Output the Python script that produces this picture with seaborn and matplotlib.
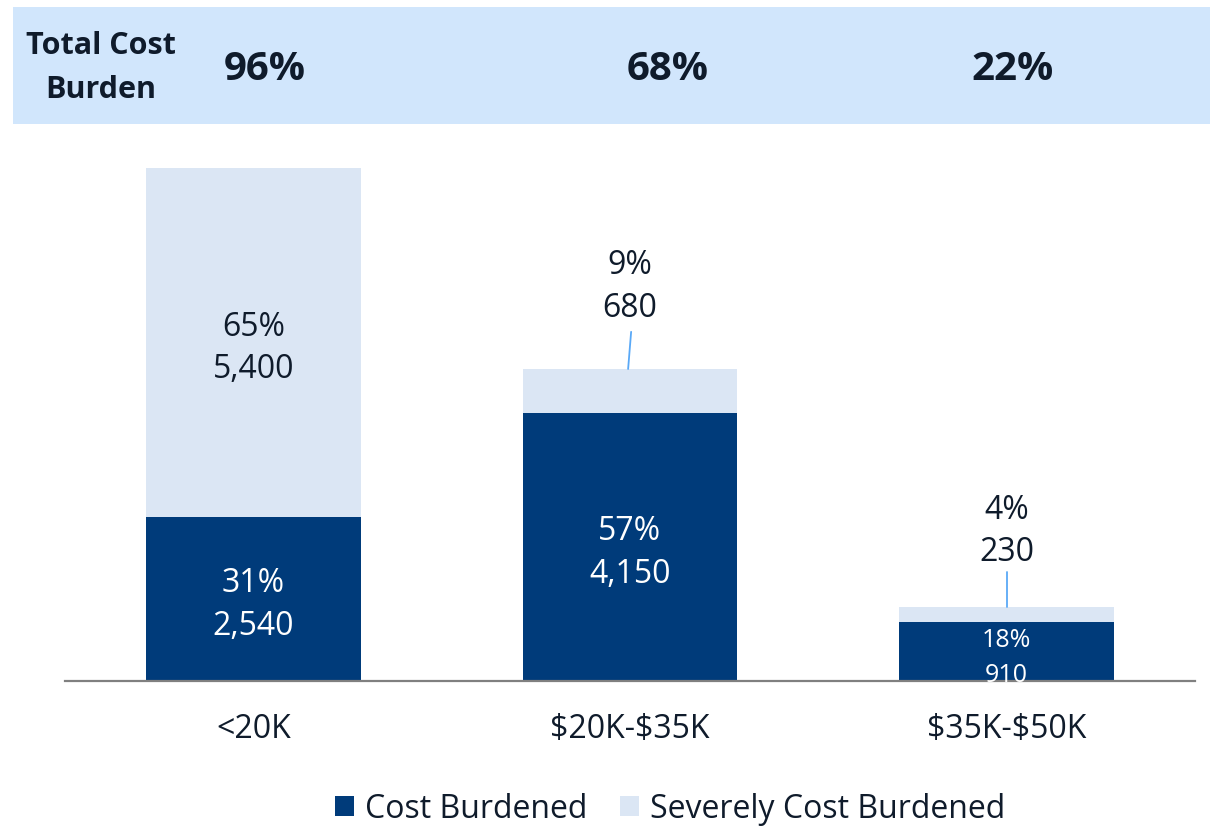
import matplotlib
matplotlib.use("Agg")
import matplotlib.pyplot as plt
import seaborn as sns
import pandas as pd
from matplotlib.patches import Rectangle, Patch

sns.set_theme(style="white")
plt.rcParams['font.family'] = ['Open Sans', 'DejaVu Sans']
plt.rcParams['text.parse_math'] = False

categories = ["<20K", "$20K-$35K", "$35K-$50K"]
cost_burdened = [2540, 4150, 910]
severe_burdened = [5400, 680, 230]
cost_pct = ["31%", "57%", "18%"]
severe_pct = ["65%", "9%", "4%"]
total_pct = ["96%", "68%", "22%"]

DARK = "#003b7a"
LIGHT = "#dbe6f4"
BAND = "#d1e6fc"
TXT = "#0f1b2b"
LEADER = "#5aa9f7"

df = pd.DataFrame({
    "cat": categories,
    "cost": cost_burdened,
    "severe": severe_burdened,
})
df["total"] = df["cost"] + df["severe"]

fig = plt.figure(figsize=(12.22, 8.29), dpi=100)
W, H = 1222, 829

# header band
fig.patches.append(Rectangle((13 / W, 1 - 125 / H), 1197 / W, 117 / H,
                             transform=fig.transFigure, facecolor=BAND,
                             edgecolor="none", zorder=0))
fig.text(101 / W, 1 - 68 / H, "Total Cost\nBurden", ha="center", va="center",
         fontsize=22, fontweight="bold", color=TXT, linespacing=1.62)
for xp, t in zip([265, 668, 1013], total_pct):
    fig.text(xp / W, 1 - 70 / H, t, ha="center", va="center",
             fontsize=29, fontweight="bold", color=TXT)

ax = fig.add_axes([65 / W, 1 - 682 / H, 1130 / W, 542 / H])
sns.barplot(data=df, x="cat", y="total", color=LIGHT, width=0.57,
            saturation=1, ax=ax, order=categories, linewidth=0, edgecolor="none")
sns.barplot(data=df, x="cat", y="cost", color=DARK, width=0.57,
            saturation=1, ax=ax, order=categories, linewidth=0, edgecolor="none")

ax.set_xlim(-0.5, 2.5)
ax.set_ylim(0, 8390)
ax.set_xlabel("")
ax.set_ylabel("")
ax.set_yticks([])
for s in ["top", "right", "left"]:
    ax.spines[s].set_visible(False)
ax.spines["bottom"].set_color("#808080")
ax.spines["bottom"].set_linewidth(1.6)
ax.tick_params(axis="x", length=0, pad=22, labelsize=23, labelcolor=TXT)
ax.patch.set_alpha(0)

FS = 23
gap = 330
dy = -75
for i in range(3):
    c = cost_burdened[i]
    s = severe_burdened[i]
    if i < 2:
        ax.text(i, c / 2 + gap + dy, cost_pct[i], ha="center", va="center",
                fontsize=FS, color="white")
        ax.text(i, c / 2 - gap + dy, f"{c:,}", ha="center", va="center",
                fontsize=FS, color="white")
    else:
        ax.text(i, c / 2 + 210 - 30, cost_pct[i], ha="center", va="center",
                fontsize=18, color="white")
        ax.text(i, c / 2 - 320 - 30, f"{c:,}", ha="center", va="center",
                fontsize=18, color="white", clip_on=False)
    if i == 0:
        ax.text(i, c + s / 2 + gap + dy, severe_pct[i], ha="center", va="center",
                fontsize=FS, color=TXT)
        ax.text(i, c + s / 2 - gap + dy, f"{s:,}", ha="center", va="center",
                fontsize=FS, color=TXT)

# leader labels above bars 2 and 3
top2 = cost_burdened[1] + severe_burdened[1]
ax.plot([0.995, 1.003], [top2, top2 + 575], color=LEADER, lw=1.3)
ax.text(1.0, top2 + 1620, severe_pct[1], ha="center", va="center", fontsize=FS, color=TXT)
ax.text(1.0, top2 + 950, f"{severe_burdened[1]:,}", ha="center", va="center", fontsize=FS, color=TXT)
top3 = cost_burdened[2] + severe_burdened[2]
ax.plot([2.0, 2.0], [top3, top3 + 540], color=LEADER, lw=1.3)
ax.text(2.0, top3 + 1520, severe_pct[2], ha="center", va="center", fontsize=FS, color=TXT)
ax.text(2.0, top3 + 860, f"{severe_burdened[2]:,}", ha="center", va="center", fontsize=FS, color=TXT)

handles = [Patch(facecolor=DARK, edgecolor="none", label="Cost Burdened"),
           Patch(facecolor=LIGHT, edgecolor="none", label="Severely Cost Burdened")]
fig.legend(handles=handles, loc="center", bbox_to_anchor=(670 / W, 1 - 810 / H),
           ncol=2, frameon=False, fontsize=23, handlelength=0.6, handleheight=0.6,
           handletextpad=0.35, columnspacing=1.0, labelcolor=TXT)

fig.savefig("out.png", dpi=100)
